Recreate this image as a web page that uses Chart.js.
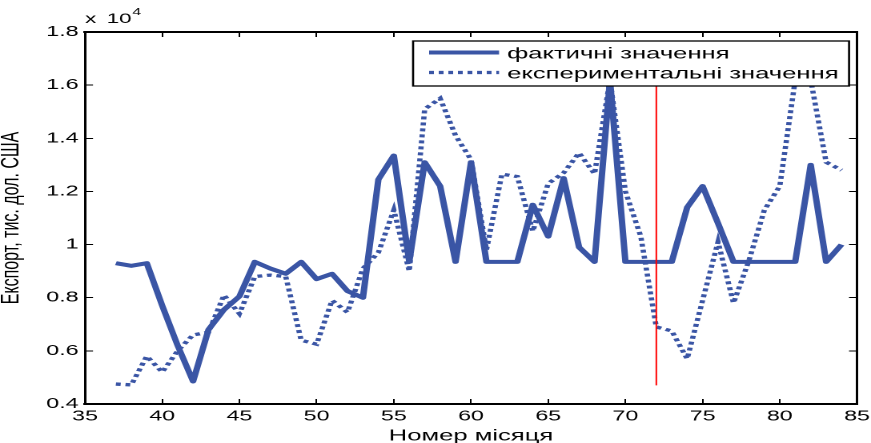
<!DOCTYPE html>
<html>
<head>
<meta charset="utf-8">
<script src="https://cdn.jsdelivr.net/npm/chart.js@4.4.0/dist/chart.umd.min.js"></script>
<style>
  html, body { margin: 0; padding: 0; background: #fff; overflow: hidden; }
  /* the original figure is stretched sideways, so the chart is drawn narrow and widened */
  #wrap { width: 544px; height: 443px; transform: scaleX(1.6011); transform-origin: 0 0; }
</style>
</head>
<body>
<div id="wrap"><canvas id="exportChart"></canvas></div>
<script>
const months = [37, 38, 39, 40, 41, 42, 43, 44, 45, 46, 47, 48, 49, 50, 51, 52,
  53, 54, 55, 56, 57, 58, 59, 60, 61, 62, 63, 64, 65, 66, 67, 68,
  69, 70, 71, 72, 73, 74, 75, 76, 77, 78, 79, 80, 81, 82, 83, 84];

// values in units of 10^4
const actualValues = [0.93, 0.92, 0.93, 0.77, 0.62, 0.485, 0.68, 0.755, 0.805, 0.935, 0.91, 0.89, 0.935, 0.87, 0.89, 0.825,
  0.80, 1.245, 1.335, 0.935, 1.31, 1.22, 0.935, 1.31, 0.935, 0.935, 0.935, 1.15, 1.03, 1.25, 0.99, 0.935,
  1.62, 0.935, 0.935, 0.935, 0.935, 1.14, 1.22, 1.08, 0.935, 0.935, 0.935, 0.935, 0.935, 1.30, 0.935, 1.00];

const modelValues = [0.475, 0.472, 0.58, 0.52, 0.60, 0.66, 0.67, 0.81, 0.74, 0.88, 0.885, 0.88, 0.64, 0.625, 0.79, 0.745,
  0.91, 0.97, 1.13, 0.90, 1.51, 1.55, 1.41, 1.32, 0.98, 1.265, 1.256, 1.05, 1.23, 1.27, 1.345, 1.266,
  1.62, 1.20, 1.03, 0.69, 0.675, 0.57, 0.79, 1.01, 0.78, 0.94, 1.13, 1.22, 1.62, 1.62, 1.31, 1.28];

const seriesLabels = ['фактичні значення', 'експериментальні значення'];
const splitMonth = 72;
const splitRange = [0.47, 1.6];

const xTitle = 'Номер місяця';
const yTitle = 'Експорт, тис. дол. США';
const scaleNote = ['x', '10', '4'];

const blue = '#3a55a5';
const font = '"Liberation Sans", Arial, sans-serif';

function toPoints(xs, ys) {
  return xs.map((x, i) => ({ x: x, y: ys[i] }));
}

// legend with a box, drawn inside the plot like the original
const boxLegend = {
  id: 'boxLegend',
  afterDraw(chart) {
    const ctx = chart.ctx;
    const left = 258, top = 41, right = 530.3, bottom = 86;
    ctx.save();
    ctx.fillStyle = '#fff';
    ctx.fillRect(left, top, right - left, bottom - top);
    ctx.strokeStyle = '#000';
    ctx.lineWidth = 1.3;
    ctx.strokeRect(left, top, right - left, bottom - top);
    const rows = chart.data.datasets.filter(d => d.label);
    rows.forEach((ds, i) => {
      const y = 52.5 + i * 20;
      ctx.beginPath();
      ctx.setLineDash(ds.borderDash || []);
      ctx.lineWidth = ds.borderWidth;
      ctx.strokeStyle = ds.borderColor;
      ctx.moveTo(268, y);
      ctx.lineTo(311.7, y);
      ctx.stroke();
      ctx.setLineDash([]);
      ctx.fillStyle = '#000';
      ctx.font = '16px ' + font;
      ctx.textBaseline = 'middle';
      ctx.textAlign = 'left';
      ctx.fillText(ds.label, 316.7, y + 1.5);
    });
    // exponent note above the y axis
    ctx.font = '14px ' + font;
    ctx.textBaseline = 'alphabetic';
    ctx.fillText(scaleNote[0], 53.1, 23);
    ctx.fillText(scaleNote[1], 66.6, 23);
    const w = ctx.measureText(scaleNote[1]).width;
    ctx.font = '10px ' + font;
    ctx.fillText(scaleNote[2], 66.6 + w + 0.5, 15);
    ctx.restore();
  }
};

const tickFont = { family: font, size: 14.5 };
const noPad = s => { s.paddingLeft = 0; s.paddingRight = 0; s.paddingTop = 0; s.paddingBottom = 0; };

new Chart(document.getElementById('exportChart'), {
  type: 'line',
  data: {
    datasets: [{
      label: seriesLabels[0],
      data: toPoints(months, actualValues),
      borderColor: blue,
      borderWidth: 4,
      borderJoinStyle: 'round',
      pointRadius: 0,
      fill: false,
      order: 2
    }, {
      label: seriesLabels[1],
      data: toPoints(months, modelValues),
      borderColor: blue,
      borderWidth: 3.3,
      borderDash: [3, 3],
      pointRadius: 0,
      fill: false,
      order: 1
    }, {
      label: '',
      data: toPoints([splitMonth, splitMonth], splitRange),
      borderColor: '#ff0000',
      borderWidth: 1,
      pointRadius: 0,
      fill: false,
      order: 0
    }]
  },
  plugins: [boxLegend],
  options: {
    responsive: true,
    maintainAspectRatio: false,
    animation: false,
    devicePixelRatio: 2,
    layout: { padding: { left: 0, right: 8.74, top: 32, bottom: 0 } },
    scales: {
      x: {
        type: 'linear', position: 'bottom', min: 35, max: 85,
        ticks: { stepSize: 5, padding: 9, color: '#000', font: tickFont },
        grid: { drawOnChartArea: false, tickLength: -5, color: '#000' },
        border: { color: '#000', width: 2 },
        title: { display: true, text: xTitle, color: '#000', font: { family: font, size: 16 }, padding: { top: 0, bottom: -2.6 } },
        afterFit: s => { s.height = 39; noPad(s); }
      },
      xTop: {
        type: 'linear', position: 'top', axis: 'x', min: 35, max: 85,
        ticks: { stepSize: 5, display: false },
        grid: { drawOnChartArea: false, tickLength: -5, color: '#000' },
        border: { color: '#000', width: 2 },
        afterFit: s => { s.height = 0; noPad(s); }
      },
      y: {
        type: 'linear', position: 'left', min: 0.4, max: 1.8,
        ticks: { stepSize: 0.2, padding: 9, color: '#000', font: tickFont, callback: v => String(+v.toFixed(1)) },
        grid: { drawOnChartArea: false, tickLength: -5, color: '#000' },
        border: { color: '#000', width: 1.5 },
        title: { display: true, text: yTitle, color: '#000', font: { family: font, size: 16 }, padding: { top: -2.5, bottom: 0 } },
        afterFit: s => { s.width = 53.09; noPad(s); }
      },
      yRight: {
        type: 'linear', position: 'right', axis: 'y', min: 0.4, max: 1.8,
        ticks: { stepSize: 0.2, display: false },
        grid: { drawOnChartArea: false, tickLength: -5, color: '#000' },
        border: { color: '#000', width: 1.5 },
        afterFit: s => { s.width = 0; noPad(s); }
      }
    },
    plugins: {
      legend: { display: false },
      tooltip: { enabled: false }
    }
  }
});
</script>
</body>
</html>
